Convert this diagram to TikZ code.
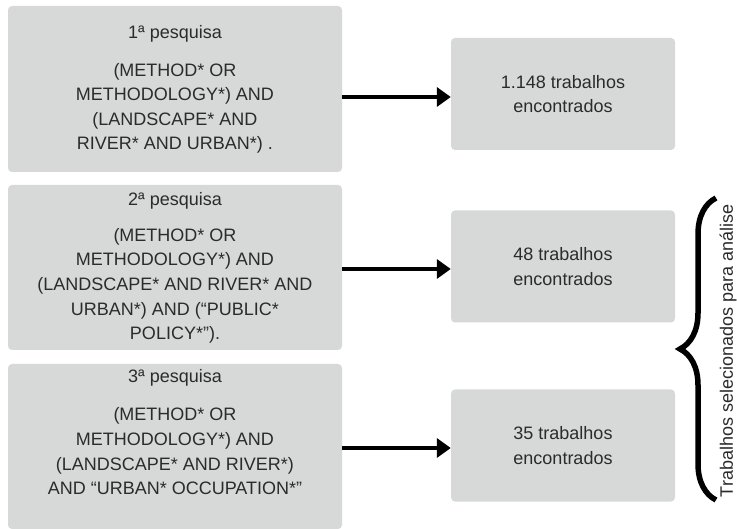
\documentclass[tikz,border=0pt]{standalone}
\usepackage{fontspec}
\setmainfont{Liberation Sans}
\usetikzlibrary{arrows.meta,decorations.pathreplacing}
\definecolor{boxfill}{HTML}{D7D8D8}
\definecolor{txtcol}{HTML}{2B2B2B}
\begin{document}
\begin{tikzpicture}[x=1pt,y=-1pt,
  every node/.style={font=\fontsize{18}{24.6}\selectfont, text=txtcol},
  lbox/.style={fill=boxfill, rounded corners=4pt, minimum width=334pt, inner sep=0pt},
  rbox/.style={fill=boxfill, rounded corners=4pt, minimum width=224pt, minimum height=112pt, align=center, inner sep=0pt},
  ltext/.style={align=center, anchor=north, inner sep=0pt},
  arr/.style={line width=4pt, -{Triangle[length=14pt,width=19pt]}},
  bracestyle/.style={line width=5.5pt, decorate, decoration={brace, amplitude=36pt}},
  ]
\useasboundingbox (0,0) rectangle (737,529);

% left boxes
\node[lbox, minimum height=166pt] (q1) at (175,89) {};
\node[lbox, minimum height=165pt] (q2) at (175,267.5) {};
\node[lbox, minimum height=165pt] (q3) at (175,446.5) {};

\node[ltext] (t1) at (175,24.8) {1ª pesquisa\\[13.5pt](METHOD* OR\\METHODOLOGY*) AND\\(LANDSCAPE* AND\\RIVER* AND URBAN*) .};
\node[ltext] (t2) at (175,192) {2ª pesquisa\\[11.5pt](METHOD* OR\\METHODOLOGY*) AND\\(LANDSCAPE* AND RIVER* AND\\URBAN*) AND (“PUBLIC*\\POLICY*”).};
\node[ltext] (t3) at (175,369) {3ª pesquisa\\[14pt](METHOD* OR\\METHODOLOGY*) AND\\(LANDSCAPE* AND RIVER*)\\AND “URBAN* OCCUPATION*”};

% right boxes
\node[rbox] (r1) at (563,94) {1.148 trabalhos\\encontrados};
\node[rbox] (r2) at (563,266.5) {48 trabalhos\\encontrados};
\node[rbox] (r3) at (563,445.5) {35 trabalhos\\encontrados};

% arrows
\coordinate (y1) at (0,97);
\coordinate (y2) at (0,269);
\coordinate (y3) at (0,448);
\draw[arr] (q1.east |- y1) -- (r1.west |- y1);
\draw[arr] (q2.east |- y2) -- (r2.west |- y2);
\draw[arr] (q3.east |- y3) -- (r3.west |- y3);

% brace
\coordinate (bb) at (716,500);
\coordinate (bt) at (716,198);
\draw[bracestyle] (bb) -- (bt);
\node[rotate=90, anchor=base, inner sep=0pt] (lab) at (732.8,351) {Trabalhos selecionados para análise};
\end{tikzpicture}
\end{document}
